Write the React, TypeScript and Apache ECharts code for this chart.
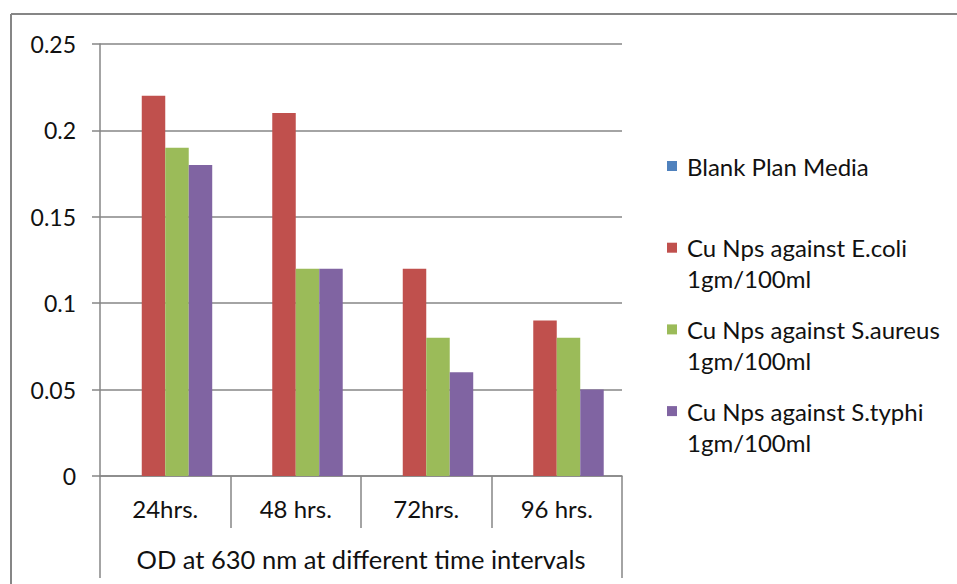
import React, { useEffect, useRef } from "react";
import * as echarts from "echarts";

const categories = ["24hrs.", "48 hrs.", "72hrs.", "96 hrs."];
const groupLabel = "OD at 630 nm at different time intervals";
const legendLines = [
  ["Blank Plan Media"],
  ["Cu Nps against E.coli", "1gm/100ml"],
  ["Cu Nps against S.aureus", "1gm/100ml"],
  ["Cu Nps against S.typhi", "1gm/100ml"],
];
const colors = ["#4F81BD", "#C0504D", "#9BBB59", "#8064A2"];
const blankValues = [0, 0, 0, 0];
const ecoliValues = [0.22, 0.21, 0.12, 0.09];
const aureusValues = [0.19, 0.12, 0.08, 0.08];
const typhiValues = [0.18, 0.12, 0.06, 0.05];
const seriesValues = [blankValues, ecoliValues, aureusValues, typhiValues];

const FONT = "Lato";
const GRAY = "#868686";
const TEXT = "#111";

export default function App() {
  const ref = useRef<HTMLDivElement>(null);
  useEffect(() => {
    if (!ref.current) return;
    const chart = echarts.init(ref.current, undefined, { renderer: "svg" });
    const legendGraphics: any[] = [];
    legendLines.forEach((lines, i) => {
      const cy = 166 + i * 81.7;
      legendGraphics.push({
        type: "rect",
        shape: { x: 667, y: cy - 5, width: 10, height: 10 },
        style: { fill: colors[i] },
      });
      legendGraphics.push({
        type: "text",
        x: 687,
        y: cy - 15.5,
        style: {
          text: lines.join("\n"),
          fontFamily: FONT,
          fontSize: 24,
          lineHeight: 31,
          verticalAlign: "top",
          fill: TEXT,
        },
      });
    });
    chart.setOption({
      animation: false,
      backgroundColor: "#fff",
      grid: { left: 100, right: 335, top: 44, bottom: 108, outerBoundsMode: "none" },
      xAxis: [
        {
          type: "category",
          data: categories,
          position: "bottom",
          axisLine: { show: true, lineStyle: { color: GRAY, width: 1.5 } },
          axisTick: { show: true, interval: 0, length: 52, lineStyle: { color: GRAY, width: 1.5 } },
          axisLabel: { interval: 0, margin: 20, fontFamily: FONT, fontSize: 24, lineHeight: 24, color: TEXT },
        },
        {
          type: "category",
          data: [groupLabel],
          position: "bottom",
          offset: 52,
          axisLine: { show: false },
          axisTick: { show: true, interval: 0, length: 50, lineStyle: { color: GRAY, width: 1.5 } },
          axisLabel: { interval: 0, margin: 18, fontFamily: FONT, fontSize: 25.5, lineHeight: 25, color: TEXT },
        },
      ],
      yAxis: {
        type: "value",
        min: 0,
        max: 0.25,
        interval: 0.05,
        axisLine: { show: true, lineStyle: { color: GRAY, width: 1.5 } },
        axisTick: { show: true, length: 8, lineStyle: { color: GRAY, width: 1.5 } },
        splitLine: { show: true, lineStyle: { color: GRAY, width: 1.5 } },
        axisLabel: { margin: 24, fontFamily: FONT, fontSize: 23, color: TEXT },
      },
      series: seriesValues.map((vals, i) => ({
        type: "bar",
        name: legendLines[i].join(" "),
        data: vals,
        xAxisIndex: 0,
        yAxisIndex: 0,
        barGap: "0%",
        barCategoryGap: "28%",
        itemStyle: { color: colors[i] },
      })),
      graphic: [
        { type: "line", shape: { x1: 11, y1: 14, x2: 957, y2: 14 }, style: { stroke: GRAY, lineWidth: 2 } },
        { type: "line", shape: { x1: 11, y1: 14, x2: 11, y2: 584 }, style: { stroke: GRAY, lineWidth: 2 } },
        ...legendGraphics,
      ],
    });
    return () => chart.dispose();
  }, []);
  return (
    <div
      ref={ref}
      style={{ position: "fixed", left: 0, top: 0, width: 957, height: 584, background: "#fff" }}
    />
  );
}
